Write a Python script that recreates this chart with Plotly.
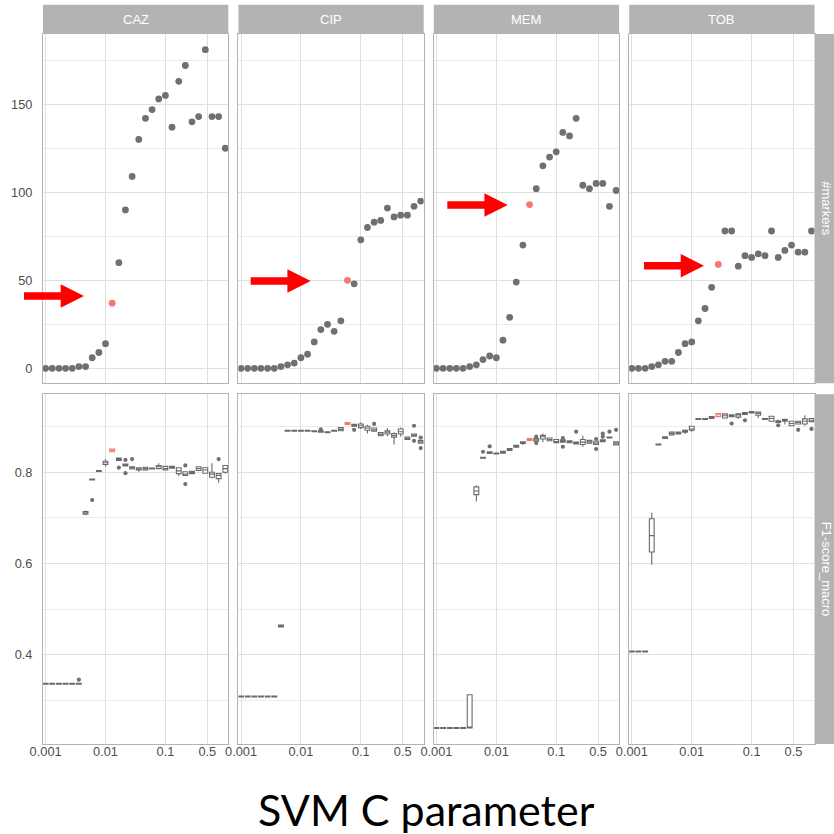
import numpy as np
import plotly.graph_objects as go

# ---------------- data ----------------
C_values = [0.001, 0.00129, 0.00167, 0.00215, 0.00278, 0.00359, 0.00464, 0.00599, 0.00774,
            0.01, 0.0129, 0.0167, 0.0215, 0.0278, 0.0359, 0.0464, 0.0599, 0.0774,
            0.1, 0.129, 0.167, 0.215, 0.278, 0.359, 0.464, 0.599, 0.774, 1.0]
drugs = ["CAZ", "CIP", "MEM", "TOB"]
selected_idx = [10, 16, 14, 13]
row_labels = ["#markers", "F1-score_macro"]
x_tick_vals = [0.001, 0.01, 0.1, 0.5]
x_tick_text = ["0.001", "0.01", "0.1", "0.5"]
markers_ticks = [0, 50, 100, 150]
markers_minor = [25, 75, 125, 175]
f1_ticks = [0.4, 0.6, 0.8]
f1_minor = [0.3, 0.5, 0.7, 0.9]
x_label = "SVM C parameter"

markers_CAZ = [0, 0, 0, 0, 0, 1, 1, 6, 9, 14, 37, 60, 90, 109, 130, 142, 147, 153, 155, 137, 163, 172, 140, 143, 181, 143, 143, 125]
markers_CIP = [0, 0, 0, 0, 0, 0, 1, 2, 3, 6, 8, 15, 22, 25, 21, 27, 50, 48, 73, 80, 83, 84, 91, 86, 87, 87, 92, 95]
markers_MEM = [0, 0, 0, 0, 0, 1, 2, 5, 7, 6, 16, 29, 49, 70, 93, 102, 115, 120, 123, 134, 132, 142, 104, 102, 105, 105, 92, 101]
markers_TOB = [0, 0, 0, 1, 2, 4, 4, 9, 14, 15, 27, 34, 46, 59, 78, 78, 58, 64, 63, 65, 64, 78, 63, 67, 70, 66, 66, 78]

# F1-score (macro) box statistics per C value
f1_med_CAZ = [0.336, 0.336, 0.336, 0.336, 0.336, 0.336, 0.711, 0.784, 0.803, 0.821, 0.848, 0.829, 0.816, 0.810, 0.807, 0.808, 0.808, 0.812, 0.808, 0.811, 0.803, 0.796, 0.800, 0.808, 0.805, 0.796, 0.793, 0.808]
f1_q1_CAZ = [0.335, 0.335, 0.335, 0.335, 0.335, 0.335, 0.708, 0.783, 0.802, 0.817, 0.845, 0.826, 0.814, 0.807, 0.805, 0.805, 0.807, 0.808, 0.805, 0.809, 0.797, 0.793, 0.797, 0.804, 0.798, 0.789, 0.786, 0.800]
f1_q3_CAZ = [0.337, 0.337, 0.337, 0.337, 0.337, 0.337, 0.714, 0.785, 0.804, 0.824, 0.851, 0.831, 0.818, 0.812, 0.810, 0.811, 0.809, 0.815, 0.813, 0.813, 0.810, 0.801, 0.802, 0.812, 0.810, 0.800, 0.797, 0.815]
f1_lo_CAZ = [0.335, 0.335, 0.335, 0.335, 0.335, 0.335, 0.706, 0.782, 0.801, 0.812, 0.844, 0.825, 0.813, 0.806, 0.801, 0.804, 0.806, 0.807, 0.804, 0.808, 0.792, 0.792, 0.796, 0.803, 0.797, 0.787, 0.777, 0.797]
f1_hi_CAZ = [0.337, 0.337, 0.337, 0.337, 0.337, 0.337, 0.716, 0.786, 0.805, 0.829, 0.852, 0.832, 0.819, 0.813, 0.811, 0.812, 0.810, 0.820, 0.814, 0.814, 0.811, 0.802, 0.803, 0.813, 0.811, 0.820, 0.798, 0.816]
f1_out_idx_CAZ = [5, 7, 11, 12, 12, 13, 21, 21, 26]
f1_out_val_CAZ = [0.345, 0.739, 0.810, 0.827, 0.798, 0.829, 0.815, 0.774, 0.829]

f1_med_CIP = [0.308, 0.308, 0.308, 0.308, 0.308, 0.308, 0.463, 0.891, 0.891, 0.891, 0.891, 0.890, 0.889, 0.888, 0.891, 0.894, 0.907, 0.903, 0.902, 0.897, 0.893, 0.883, 0.888, 0.881, 0.889, 0.874, 0.881, 0.867]
f1_q1_CIP = [0.307, 0.307, 0.307, 0.307, 0.307, 0.307, 0.461, 0.890, 0.890, 0.890, 0.890, 0.889, 0.888, 0.887, 0.890, 0.891, 0.905, 0.901, 0.898, 0.892, 0.890, 0.880, 0.884, 0.877, 0.884, 0.872, 0.879, 0.864]
f1_q3_CIP = [0.309, 0.309, 0.309, 0.309, 0.309, 0.309, 0.465, 0.892, 0.892, 0.892, 0.892, 0.891, 0.891, 0.889, 0.892, 0.898, 0.909, 0.905, 0.906, 0.901, 0.897, 0.887, 0.891, 0.885, 0.895, 0.877, 0.884, 0.870]
f1_lo_CIP = [0.307, 0.307, 0.307, 0.307, 0.307, 0.307, 0.461, 0.890, 0.890, 0.890, 0.890, 0.889, 0.888, 0.887, 0.890, 0.890, 0.904, 0.900, 0.895, 0.885, 0.889, 0.879, 0.879, 0.861, 0.878, 0.871, 0.878, 0.863]
f1_hi_CIP = [0.309, 0.309, 0.309, 0.309, 0.309, 0.309, 0.465, 0.892, 0.892, 0.892, 0.892, 0.892, 0.892, 0.890, 0.893, 0.899, 0.910, 0.906, 0.909, 0.904, 0.898, 0.888, 0.897, 0.888, 0.898, 0.878, 0.885, 0.871]
f1_out_idx_CIP = [12, 17, 20, 26, 26, 27, 27]
f1_out_val_CIP = [0.894, 0.893, 0.906, 0.902, 0.869, 0.876, 0.853]

f1_med_MEM = [0.239, 0.239, 0.239, 0.239, 0.239, 0.240, 0.759, 0.832, 0.843, 0.841, 0.844, 0.850, 0.857, 0.865, 0.872, 0.871, 0.878, 0.872, 0.867, 0.869, 0.867, 0.864, 0.866, 0.867, 0.864, 0.869, 0.876, 0.864]
f1_q1_MEM = [0.238, 0.238, 0.238, 0.238, 0.238, 0.239, 0.751, 0.831, 0.841, 0.840, 0.842, 0.848, 0.855, 0.863, 0.870, 0.868, 0.873, 0.869, 0.865, 0.866, 0.865, 0.862, 0.861, 0.864, 0.861, 0.867, 0.875, 0.860]
f1_q3_MEM = [0.240, 0.240, 0.240, 0.240, 0.240, 0.312, 0.768, 0.833, 0.845, 0.842, 0.846, 0.852, 0.859, 0.867, 0.874, 0.874, 0.881, 0.875, 0.872, 0.871, 0.869, 0.866, 0.872, 0.870, 0.868, 0.871, 0.877, 0.867]
f1_lo_MEM = [0.238, 0.238, 0.238, 0.238, 0.238, 0.239, 0.736, 0.830, 0.840, 0.839, 0.841, 0.847, 0.854, 0.860, 0.869, 0.867, 0.866, 0.868, 0.864, 0.865, 0.864, 0.861, 0.856, 0.863, 0.860, 0.866, 0.874, 0.859]
f1_hi_MEM = [0.240, 0.240, 0.240, 0.240, 0.240, 0.313, 0.771, 0.834, 0.846, 0.843, 0.847, 0.853, 0.860, 0.868, 0.875, 0.875, 0.885, 0.876, 0.873, 0.872, 0.870, 0.867, 0.880, 0.871, 0.869, 0.872, 0.878, 0.868]
f1_out_idx_MEM = [7, 8, 15, 15, 19, 19, 21, 24, 24, 25, 25, 26, 27]
f1_out_val_MEM = [0.845, 0.857, 0.878, 0.864, 0.856, 0.875, 0.889, 0.851, 0.873, 0.885, 0.878, 0.889, 0.893]

f1_med_TOB = [0.407, 0.407, 0.407, 0.661, 0.861, 0.876, 0.885, 0.886, 0.890, 0.895, 0.917, 0.917, 0.920, 0.926, 0.924, 0.924, 0.926, 0.929, 0.932, 0.929, 0.917, 0.918, 0.911, 0.914, 0.907, 0.909, 0.912, 0.914]
f1_q1_TOB = [0.406, 0.406, 0.406, 0.625, 0.860, 0.874, 0.882, 0.884, 0.888, 0.892, 0.916, 0.916, 0.918, 0.922, 0.919, 0.922, 0.921, 0.927, 0.930, 0.925, 0.916, 0.912, 0.909, 0.912, 0.902, 0.906, 0.906, 0.911]
f1_q3_TOB = [0.408, 0.408, 0.408, 0.698, 0.862, 0.878, 0.888, 0.888, 0.892, 0.901, 0.918, 0.918, 0.922, 0.929, 0.928, 0.926, 0.928, 0.931, 0.933, 0.932, 0.918, 0.923, 0.913, 0.916, 0.912, 0.912, 0.917, 0.918]
f1_lo_TOB = [0.406, 0.406, 0.406, 0.597, 0.859, 0.873, 0.881, 0.883, 0.884, 0.889, 0.915, 0.915, 0.917, 0.921, 0.918, 0.921, 0.917, 0.926, 0.929, 0.919, 0.915, 0.911, 0.908, 0.905, 0.901, 0.905, 0.902, 0.910]
f1_hi_TOB = [0.408, 0.408, 0.408, 0.711, 0.863, 0.879, 0.889, 0.889, 0.894, 0.902, 0.919, 0.919, 0.923, 0.930, 0.929, 0.927, 0.929, 0.932, 0.934, 0.933, 0.919, 0.924, 0.915, 0.917, 0.913, 0.913, 0.925, 0.919]
f1_out_idx_TOB = [15, 17, 22, 25, 27]
f1_out_val_TOB = [0.907, 0.914, 0.903, 0.893, 0.895]

markers_by_drug = [markers_CAZ, markers_CIP, markers_MEM, markers_TOB]
f1_by_drug = [
    (f1_q1_CAZ, f1_med_CAZ, f1_q3_CAZ, f1_lo_CAZ, f1_hi_CAZ, f1_out_idx_CAZ, f1_out_val_CAZ),
    (f1_q1_CIP, f1_med_CIP, f1_q3_CIP, f1_lo_CIP, f1_hi_CIP, f1_out_idx_CIP, f1_out_val_CIP),
    (f1_q1_MEM, f1_med_MEM, f1_q3_MEM, f1_lo_MEM, f1_hi_MEM, f1_out_idx_MEM, f1_out_val_MEM),
    (f1_q1_TOB, f1_med_TOB, f1_q3_TOB, f1_lo_TOB, f1_hi_TOB, f1_out_idx_TOB, f1_out_val_TOB),
]

# ---------------- style / layout ----------------
W = H = 834
GREY_PT = "#707070"
RED_PT = "#F8766D"
STRIP = "#B3B3B3"
GRID = "#E0E0E0"
GRID_MINOR = "#ECECEC"
TICKFONT = dict(family="Liberation Sans, Arial, sans-serif", size=12.8, color="#4D4D4D")

col_left_px = [43.0, 238.4, 433.8, 629.2]
panel_w_px = 185.3
row_top_px = [34.0, 394.3]
row_bot_px = [383.3, 744.0]
strip_top_px = 4.7
right_strip_px = 814.5

def fx(p):
    return p / W

def fy(p):
    return 1 - p / H

logC = np.log10(np.array(C_values))
x_range = [-3.044, 0.05]

fig = go.Figure()
layout_axes = {}

for r in range(2):
    for c in range(4):
        k = r * 4 + c + 1
        xa = "xaxis" if k == 1 else f"xaxis{k}"
        ya = "yaxis" if k == 1 else f"yaxis{k}"
        xr = "x" if k == 1 else f"x{k}"
        yr = "y" if k == 1 else f"y{k}"
        layout_axes[xa] = dict(
            domain=[fx(col_left_px[c]), fx(col_left_px[c] + panel_w_px)],
            anchor=yr, range=x_range, type="linear",
            tickvals=list(np.log10(x_tick_vals)), ticktext=x_tick_text,
            showticklabels=(r == 1), tickfont=TICKFONT,
            ticks="", showgrid=True, gridcolor=GRID, gridwidth=1,
            zeroline=False, showline=True, mirror=True, linecolor=STRIP, linewidth=1,
            automargin=False, ticklabelstandoff=-4,
        )
        if r == 0:
            yrng, yt, ym = [-8.5, 189.9], markers_ticks, markers_minor
        else:
            yrng, yt, ym = [0.204, 0.971], f1_ticks, f1_minor
        layout_axes[ya] = dict(
            domain=[fy(row_bot_px[r]), fy(row_top_px[r])],
            anchor=xr, range=yrng, tickvals=yt,
            ticktext=[str(v) for v in yt],
            minor=dict(tickvals=ym, showgrid=True, gridcolor=GRID_MINOR, gridwidth=1, ticks=""),
            showticklabels=(c == 0), tickfont=TICKFONT,
            ticks="", showgrid=True, gridcolor=GRID, gridwidth=1,
            zeroline=False, showline=True, mirror=True, linecolor=STRIP, linewidth=1,
            automargin=False, ticklabelstandoff=7,
        )

        sel = selected_idx[c]
        others = [i for i in range(len(C_values)) if i != sel]
        if r == 0:
            ys = markers_by_drug[c]
            fig.add_trace(go.Scatter(
                x=[logC[i] for i in others], y=[ys[i] for i in others],
                mode="markers", marker=dict(color=GREY_PT, size=6.8),
                xaxis=xr, yaxis=yr, showlegend=False, hoverinfo="skip"))
            fig.add_trace(go.Scatter(
                x=[logC[sel]], y=[ys[sel]], mode="markers",
                marker=dict(color=RED_PT, size=6.8),
                xaxis=xr, yaxis=yr, showlegend=False, hoverinfo="skip"))
        else:
            q1, med, q3, lo, hi, oi, ov = f1_by_drug[c]
            for idxs, col in ((others, "#6A6A6A"), ([sel], RED_PT)):
                fig.add_trace(go.Box(
                    x=[logC[i] for i in idxs],
                    q1=[q1[i] for i in idxs], median=[med[i] for i in idxs],
                    q3=[q3[i] for i in idxs], lowerfence=[lo[i] for i in idxs],
                    upperfence=[hi[i] for i in idxs],
                    width=0.08, whiskerwidth=0, boxpoints=False,
                    fillcolor="white", line=dict(color=col, width=1.1),
                    xaxis=xr, yaxis=yr, showlegend=False, hoverinfo="skip"))
            fig.add_trace(go.Scatter(
                x=[logC[i] for i in oi], y=ov, mode="markers",
                marker=dict(color=GREY_PT, size=4.2),
                xaxis=xr, yaxis=yr, showlegend=False, hoverinfo="skip"))

shapes = []
annotations = []
# top strips
for c in range(4):
    shapes.append(dict(type="rect", xref="paper", yref="paper",
                       x0=fx(col_left_px[c]), x1=fx(col_left_px[c] + panel_w_px),
                       y0=fy(row_top_px[0]), y1=fy(strip_top_px),
                       fillcolor=STRIP, line=dict(width=0), layer="below"))
    annotations.append(dict(text=drugs[c], xref="paper", yref="paper",
                            x=fx(col_left_px[c] + panel_w_px / 2),
                            y=fy((strip_top_px + row_top_px[0]) / 2),
                            xanchor="center", yanchor="middle", showarrow=False,
                            font=dict(family="Liberation Sans, Arial, sans-serif", size=13, color="white")))
# right strips
for r in range(2):
    shapes.append(dict(type="rect", xref="paper", yref="paper",
                       x0=fx(right_strip_px), x1=fx(845),
                       y0=fy(row_bot_px[r]), y1=fy(row_top_px[r]),
                       fillcolor=STRIP, line=dict(width=0), layer="below"))
    annotations.append(dict(text=row_labels[r], xref="paper", yref="paper",
                            x=fx(826.5), y=fy((row_top_px[r] + row_bot_px[r]) / 2),
                            xanchor="center", yanchor="middle", showarrow=False, textangle=90,
                            font=dict(family="Liberation Sans, Arial, sans-serif", size=13, color="white")))

# red block arrows (annotation overlays)
arrow_tail_px = [24.0, 250.7, 447.3, 644.0]
arrow_tip_px = [84.0, 310.7, 507.7, 704.0]
arrow_mid_px = [296.0, 281.0, 205.0, 265.7]
head_len, shaft_half, head_half = 23.3, 3.8, 11.8
for x0, xt, yc in zip(arrow_tail_px, arrow_tip_px, arrow_mid_px):
    xb = xt - head_len
    pts = [(x0, yc - shaft_half), (xb, yc - shaft_half), (xb, yc - head_half), (xt, yc),
           (xb, yc + head_half), (xb, yc + shaft_half), (x0, yc + shaft_half)]
    path = "M " + " L ".join(f"{fx(px):.5f},{fy(py):.5f}" for px, py in pts) + " Z"
    shapes.append(dict(type="path", xref="paper", yref="paper", path=path,
                       fillcolor="#FF0000", line=dict(width=0), layer="above"))

annotations.append(dict(text=x_label, xref="paper", yref="paper", x=fx(426), y=fy(809),
                        xanchor="center", yanchor="middle", showarrow=False,
                        font=dict(family="Lato, Carlito, sans-serif", size=43, color="black")))

fig.update_layout(
    width=W, height=H, margin=dict(l=0, r=0, t=0, b=0),
    paper_bgcolor="white", plot_bgcolor="white",
    boxmode="overlay", showlegend=False,
    shapes=shapes, annotations=annotations,
    **layout_axes,
)

fig.write_html("out.html", config={"displayModeBar": False},
               post_script="document.body.style.margin='0px';document.body.style.overflow='hidden';")
